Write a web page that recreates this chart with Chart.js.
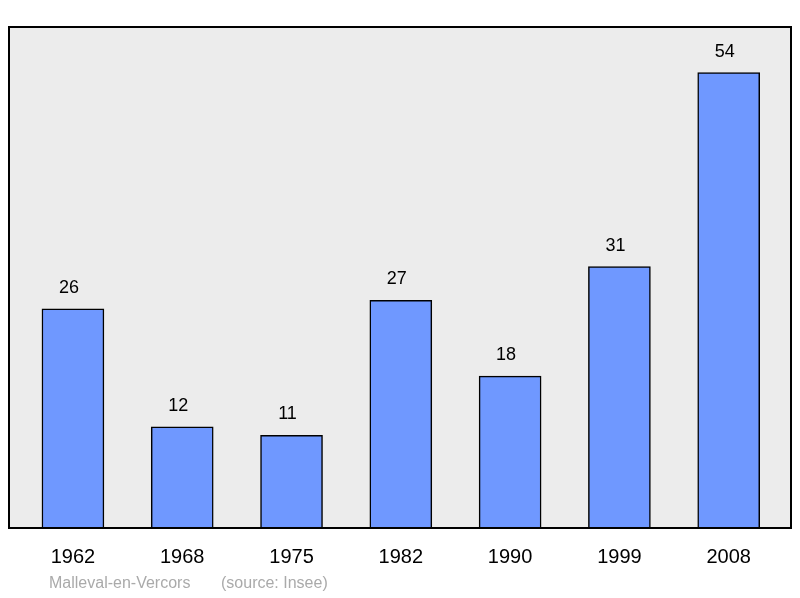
<!DOCTYPE html>
<html><head><meta charset="utf-8">
<script src="https://cdn.jsdelivr.net/npm/chart.js@4"></script>
<style>html,body{margin:0;padding:0;background:#fff}#w{width:800px;height:598px}</style>
</head><body><div id="w"><canvas id="c"></canvas></div>
<script>
const years = ["1962","1968","1975","1982","1990","1999","2008"];
const population = [26,12,11,27,18,31,54];
const points = population.map((v,i)=>({x:i,y:v}));
const deco = {
  id:'deco',
  beforeDatasetsDraw(c){const a=c.chartArea,x=c.ctx;x.save();x.fillStyle='#ececec';x.fillRect(a.left,a.top,a.width,a.height);x.restore();},
  afterDatasetsDraw(c){const a=c.chartArea,x=c.ctx;x.save();
    x.strokeStyle='#000';x.lineWidth=2;x.strokeRect(a.left,a.top,a.width,a.height);
    x.fillStyle='#000';x.font='18px "Liberation Sans", Arial';x.textAlign='center';x.textBaseline='bottom';
    c.getDatasetMeta(0).data.forEach((b,i)=>x.fillText(population[i],b.x-4,b.y-12));
    x.fillStyle='#aaa';x.font='16px "Liberation Sans", Arial';x.textAlign='left';x.textBaseline='middle';
    x.fillText('Malleval-en-Vercors',49,584);
    x.fillText('(source: Insee)',221,584);
    x.restore();}
};
new Chart(document.getElementById('c'),{
  type:'bar',
  data:{datasets:[{data:points,backgroundColor:'#6f98ff',borderColor:'#000',borderWidth:1.5,barThickness:62}]},
  options:{responsive:true,maintainAspectRatio:false,animation:false,
    layout:{padding:{left:9,right:9,top:27,bottom:0}},
    plugins:{legend:{display:false},tooltip:{enabled:false}},
    scales:{
      x:{type:'linear',offset:false,bounds:'ticks',min:-0.585,max:6.57,grid:{display:false},border:{display:false},
        afterBuildTicks(s){s.ticks=years.map((y,i)=>({value:i}));},
        afterFit(s){s.height=70;},
        ticks:{padding:9,color:'#000',font:{size:20,family:'"Liberation Sans", Arial'},autoSkip:false,maxRotation:0,callback:(v)=>years[v]}},
      y:{display:false,min:0,max:59.4}
    }},
  plugins:[deco]
});
</script></body></html>
